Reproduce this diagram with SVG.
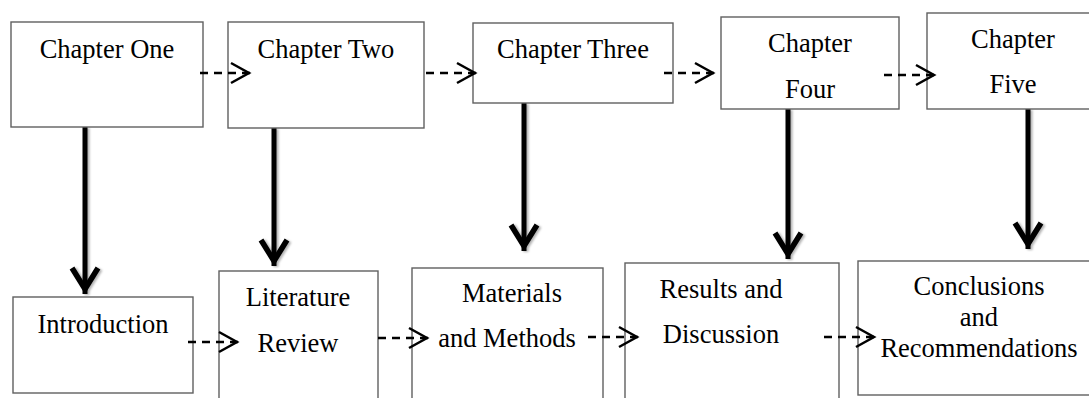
<svg xmlns="http://www.w3.org/2000/svg" width="1089" height="398" viewBox="0 0 1089 398">
<style>
.box{fill:#fff;stroke:#606060;stroke-width:1.4}
.t{font-family:"Liberation Serif","Times New Roman",serif;font-size:26.5px;fill:#000;text-anchor:middle}
.thick{stroke:#000;stroke-width:5;fill:none;filter:url(#sh)}
.dash{stroke:#000;stroke-width:2.5;fill:none;stroke-dasharray:8 6}
</style>
<defs>
<filter id="sh" filterUnits="userSpaceOnUse" x="0" y="0" width="1089" height="398">
<feDropShadow dx="2" dy="1" stdDeviation="1.2" flood-color="#000" flood-opacity="0.3"/>
</filter>
<marker id="big" markerUnits="userSpaceOnUse" markerWidth="40" markerHeight="40" viewBox="0 0 40 40" refX="33" refY="20" orient="auto">
<path d="M7,7 L28,20 L7,33" fill="none" stroke="#000" stroke-width="5.5"/>
</marker>
<marker id="open" markerUnits="userSpaceOnUse" markerWidth="30" markerHeight="30" viewBox="0 0 30 30" refX="24" refY="15" orient="auto">
<path d="M3,5 L21,15 L3,25" fill="none" stroke="#000" stroke-width="2.5"/>
</marker>
</defs>

<g id="connectors">
<line class="thick" x1="85" y1="127" x2="85" y2="294" marker-end="url(#big)"/>
<line class="thick" x1="274" y1="128" x2="274" y2="266" marker-end="url(#big)"/>
<line class="thick" x1="524" y1="103" x2="524" y2="251" marker-end="url(#big)"/>
<line class="thick" x1="788" y1="109" x2="788" y2="259" marker-end="url(#big)"/>
<line class="thick" x1="1028" y1="109" x2="1028" y2="249" marker-end="url(#big)"/>
</g>

<g id="n1"><rect class="box" x="11" y="22" width="192" height="105"/><text class="t" x="107" y="58">Chapter One</text></g>
<g id="n2"><rect class="box" x="228" y="22" width="196" height="106"/><text class="t" x="326" y="58">Chapter Two</text></g>
<g id="n3"><rect class="box" x="473" y="23" width="200" height="80"/><text class="t" x="573" y="58">Chapter Three</text></g>
<g id="n4"><rect class="box" x="721" y="17" width="178" height="92"/><text class="t" x="810" y="52">Chapter</text><text class="t" x="810" y="98">Four</text></g>
<g id="n5"><rect class="box" x="927" y="13" width="200" height="96"/><text class="t" x="1013" y="48">Chapter</text><text class="t" x="1013" y="93">Five</text></g>

<g id="n6"><rect class="box" x="13" y="297" width="180" height="96"/><text class="t" x="103" y="333">Introduction</text></g>
<g id="n7"><rect class="box" x="219" y="271" width="159" height="140"/><text class="t" x="298" y="306">Literature</text><text class="t" x="298" y="352">Review</text></g>
<g id="n8"><rect class="box" x="412" y="268" width="191" height="140"/><text class="t" x="512" y="302">Materials</text><text class="t" x="507" y="347">and Methods</text></g>
<g id="n9"><rect class="box" x="625" y="263" width="214" height="140"/><text class="t" x="721" y="298">Results and</text><text class="t" x="721" y="343">Discussion</text></g>
<g id="n10"><rect class="box" x="858" y="261" width="240" height="134"/><text class="t" x="979" y="295">Conclusions</text><text class="t" x="979" y="326">and</text><text class="t" x="979" y="357">Recommendations</text></g>

<g id="dashed-connectors">
<line class="dash" x1="200" y1="73" x2="252" y2="73" marker-end="url(#open)"/>
<line class="dash" x1="426" y1="73" x2="478" y2="73" marker-end="url(#open)"/>
<line class="dash" x1="664" y1="73" x2="716" y2="73" marker-end="url(#open)"/>
<line class="dash" x1="884" y1="75" x2="937" y2="75" marker-end="url(#open)"/>
<line class="dash" x1="188" y1="342" x2="240" y2="342" marker-end="url(#open)"/>
<line class="dash" x1="378" y1="338" x2="430" y2="338" marker-end="url(#open)"/>
<line class="dash" x1="588" y1="337" x2="640" y2="337" marker-end="url(#open)"/>
<line class="dash" x1="824" y1="337" x2="877" y2="337" marker-end="url(#open)"/>
</g>
</svg>
